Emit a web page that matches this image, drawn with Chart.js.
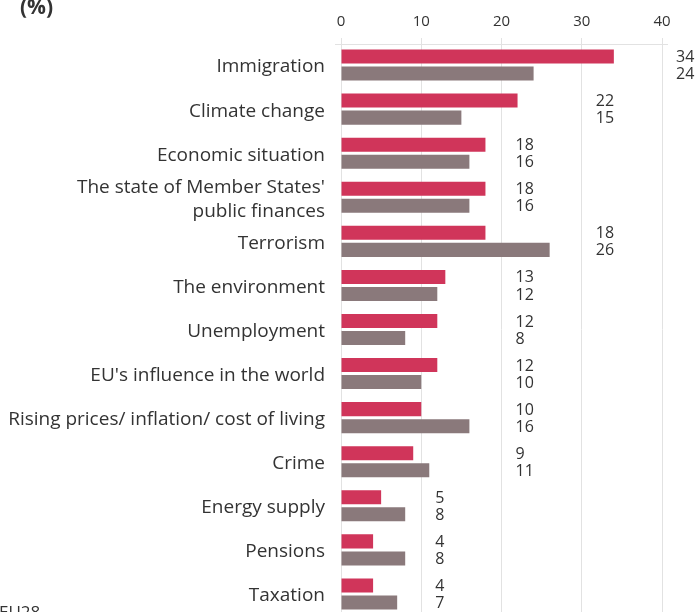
<!DOCTYPE html>
<html>
<head>
<meta charset="utf-8">
<script src="https://cdn.jsdelivr.net/npm/chart.js@4/dist/chart.umd.min.js"></script>
<style>
  html, body { margin: 0; padding: 0; overflow: hidden; background: #fff; }
  #wrap { position: relative; width: 699px; height: 612px; overflow: hidden; }
  #c { position: absolute; left: 0; top: 0; }
  .title { position: absolute; left: 20px; top: -8px; font: bold 21px "Open Sans", sans-serif; color: #333; }
  .note { position: absolute; left: -1px; top: 600px; font: 17px "Open Sans", sans-serif; color: #333; }
</style>
</head>
<body>
<div id="wrap">
  <canvas id="c" width="699" height="640"></canvas>
  <div class="title">(%)</div>
  <div class="note">EU28</div>
</div>
<script>
const categories = [
  "Immigration",
  "Climate change",
  "Economic situation",
  ["The state of Member States'", "public finances"],
  "Terrorism",
  "The environment",
  "Unemployment",
  "EU's influence in the world",
  "Rising prices/ inflation/ cost of living",
  "Crime",
  "Energy supply",
  "Pensions",
  "Taxation"
];
const seriesA = [34, 22, 18, 18, 18, 13, 12, 12, 10, 9, 5, 4, 4];
const seriesB = [24, 15, 16, 16, 26, 12, 8, 10, 16, 11, 8, 8, 7];
const xTicks = [0, 10, 20, 30, 40];

const FONT = "'Open Sans', sans-serif";
const TEXT = '#333333';
const GRID = '#e2e2e2';

const customText = {
  id: 'customText',
  beforeDatasetsDraw(chart) {
    const ctx = chart.ctx, a = chart.chartArea;
    ctx.save();
    ctx.strokeStyle = GRID;
    ctx.lineWidth = 1;
    ctx.beginPath();
    ctx.moveTo(a.left - 6, Math.round(a.top) + 1.5);
    ctx.lineTo(a.right + 6, Math.round(a.top) + 1.5);
    ctx.stroke();
    ctx.restore();
  },
  afterDatasetsDraw(chart) {
    const ctx = chart.ctx;
    const xs = chart.scales.x, ys = chart.scales.y;
    const m0 = chart.getDatasetMeta(0), m1 = chart.getDatasetMeta(1);
    ctx.save();
    ctx.fillStyle = TEXT;
    ctx.textBaseline = 'middle';
    // category labels
    ctx.font = '19px ' + FONT;
    ctx.textAlign = 'right';
    categories.forEach((c, i) => {
      const cy = ys.getPixelForValue(i) + 2;
      const lines = Array.isArray(c) ? c : [c];
      const lh = 24;
      lines.forEach((ln, k) => {
        ctx.fillText(ln, 325, cy + (k - (lines.length - 1) / 2) * lh);
      });
    });
    // value labels
    ctx.font = '16px ' + FONT;
    ctx.textAlign = 'left';
    categories.forEach((c, i) => {
      const mx = Math.max(seriesA[i], seriesB[i]);
      const x = xs.getPixelForValue(Math.ceil(mx / 10) * 10) + 14;
      ctx.fillText(String(seriesA[i]), x, m0.data[i].y + 1);
      ctx.fillText(String(seriesB[i]), x, m1.data[i].y + 1);
    });
    ctx.restore();
  }
};

new Chart(document.getElementById('c'), {
  type: 'bar',
  data: {
    labels: categories,
    datasets: [
      { label: 'A', data: seriesA, backgroundColor: '#D0355A', categoryPercentage: 0.773, barPercentage: 0.8235 },
      { label: 'B', data: seriesB, backgroundColor: '#8A797B', categoryPercentage: 0.773, barPercentage: 0.8235 }
    ]
  },
  options: {
    indexAxis: 'y',
    responsive: false,
    animation: false,
    devicePixelRatio: 1,
    layout: { padding: { left: 0, right: 37, top: 0, bottom: 24 } },
    plugins: { legend: { display: false }, tooltip: { enabled: false } },
    scales: {
      x: {
        position: 'top',
        min: 0, max: 40,
        afterBuildTicks(s) { s.ticks = xTicks.map(v => ({ value: v })); },
        afterFit(s) { s.height = 43; },
        ticks: { font: { family: FONT, size: 15 }, color: TEXT, padding: 7 },
        grid: { color: GRID, tickLength: 5, lineWidth: 1 },
        border: { display: false }
      },
      y: {
        afterFit(s) { s.width = 341; },
        ticks: { display: false },
        grid: { display: false, drawTicks: false },
        border: { display: false }
      }
    }
  },
  plugins: [customText]
});
</script>
</body>
</html>
